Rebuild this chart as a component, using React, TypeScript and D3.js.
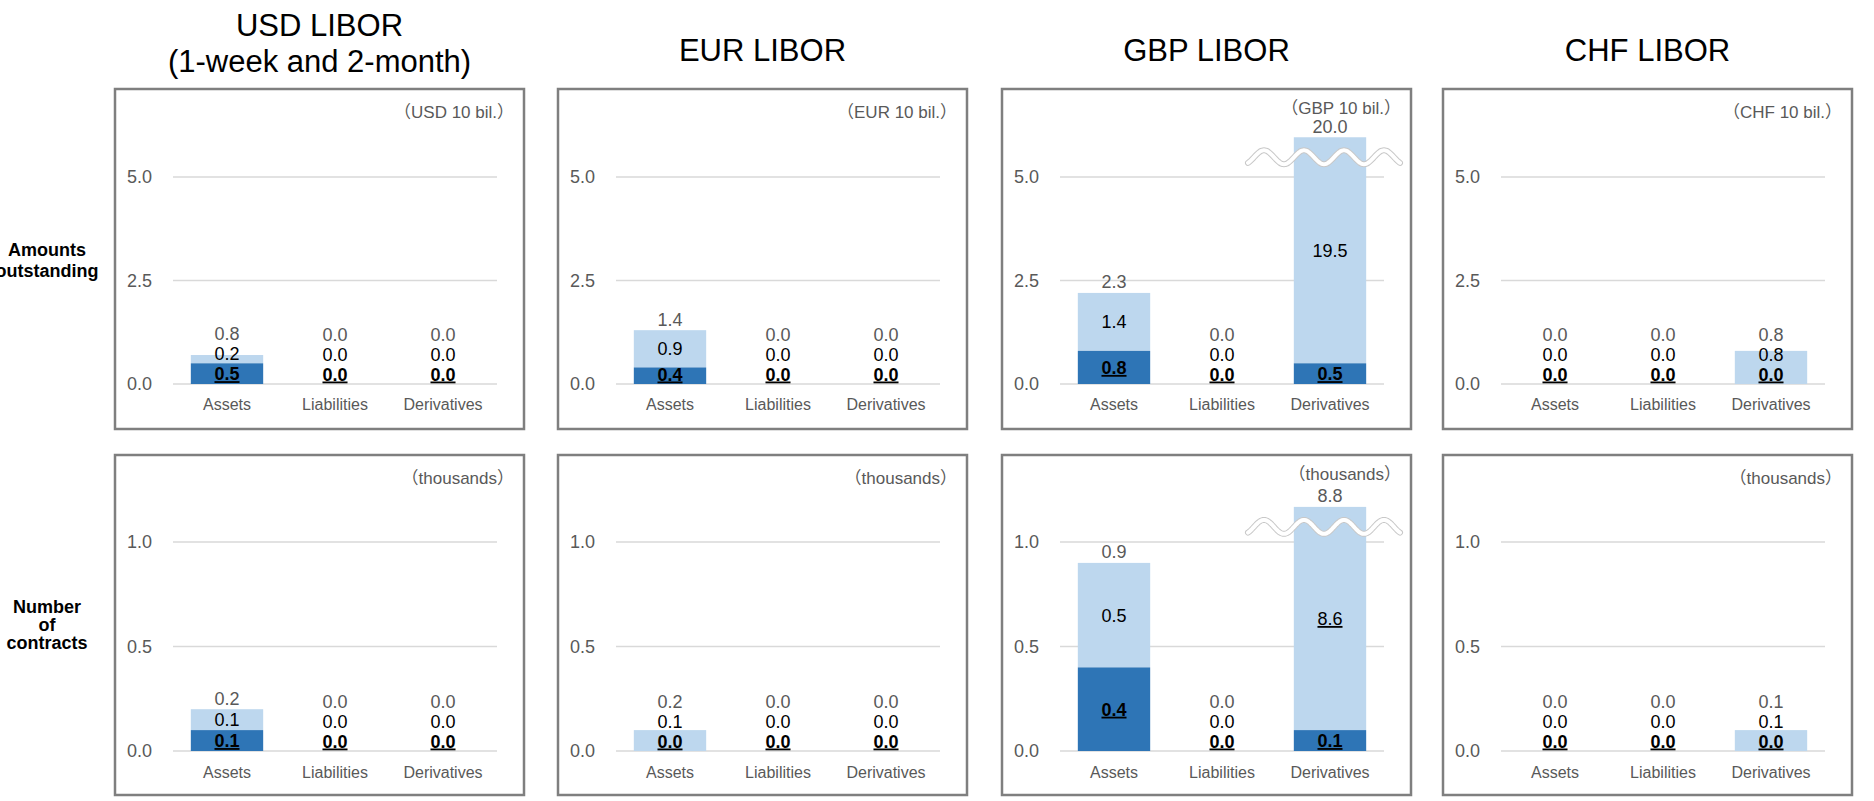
import React from "react";
import * as d3 from "d3";

// ---------- data ----------
const TITLES: string[][] = [
  ["USD LIBOR", "(1-week and 2-month)"],
  ["EUR LIBOR"],
  ["GBP LIBOR"],
  ["CHF LIBOR"],
];
const CATEGORIES = ["Assets", "Liabilities", "Derivatives"];
const ROW_LABELS: string[][] = [["Amounts", "outstanding"], ["Number", "of", "contracts"]];
const AMOUNT_UNITS = ["（USD 10 bil.）", "（EUR 10 bil.）", "（GBP 10 bil.）", "（CHF 10 bil.）"];
const COUNT_UNIT = "（thousands）";

// Amounts outstanding (10 bil.)
const AMOUNT_DARK = [[0.5, 0, 0], [0.4, 0, 0], [0.8, 0, 0.5], [0, 0, 0]];
const AMOUNT_LIGHT = [[0.2, 0, 0], [0.9, 0, 0], [1.4, 0, 19.5], [0, 0, 0.8]];
const AMOUNT_TOTAL = [[0.8, 0, 0], [1.4, 0, 0], [2.3, 0, 20.0], [0, 0, 0.8]];
// Number of contracts (thousands)
const COUNT_DARK = [[0.1, 0, 0], [0, 0, 0], [0.4, 0, 0.1], [0, 0, 0]];
const COUNT_LIGHT = [[0.1, 0, 0], [0.1, 0, 0], [0.5, 0, 8.6], [0, 0, 0.1]];
const COUNT_TOTAL = [[0.2, 0, 0], [0.2, 0, 0], [0.9, 0, 8.8], [0, 0, 0.1]];
// light labels that are underlined in the source
const COUNT_LIGHT_UNDERLINE = [[false, false, false], [false, false, false], [false, false, true], [false, false, false]];
const NO_UNDERLINE = [[false, false, false], [false, false, false], [false, false, false], [false, false, false]];

const AMOUNT_TICKS = [0, 2.5, 5];
const COUNT_TICKS = [0, 0.5, 1];

// ---------- style / layout ----------
const FONT = "'Liberation Sans', Arial, 'Noto Sans CJK JP', sans-serif";
const DARK = "#2E75B6";
const LIGHT = "#BDD7EE";
const GRID = "#D9D9D9";
const GRAY_TEXT = "#595959";
const BORDER = "#7F7F7F";

const BOX_LEFTS = [115, 558, 1002, 1443];
const BOX_W = 409;
const UNIT_SHIFT = [0, 0, -4, 0];

type RowCfg = {
  boxTop: number; boxBottom: number; base: number; topTickY: number; topTick: number;
  cap: number; unitY: number; catY: number; labelYs: number[];
  ticks: number[]; dark: number[][]; light: number[][]; total: number[][];
  lightUnderline: boolean[][]; units: string[];
};

const ROWS: RowCfg[] = [
  {
    boxTop: 89, boxBottom: 429, base: 384, topTickY: 177, topTick: 5, cap: 5.96,
    unitY: 118, catY: 410, labelYs: [256, 277],
    ticks: AMOUNT_TICKS, dark: AMOUNT_DARK, light: AMOUNT_LIGHT, total: AMOUNT_TOTAL,
    lightUnderline: NO_UNDERLINE, units: AMOUNT_UNITS,
  },
  {
    boxTop: 455, boxBottom: 795, base: 751, topTickY: 542, topTick: 1, cap: 1.168,
    unitY: 484, catY: 778, labelYs: [613, 631, 649],
    ticks: COUNT_TICKS, dark: COUNT_DARK, light: COUNT_LIGHT, total: COUNT_TOTAL,
    lightUnderline: COUNT_LIGHT_UNDERLINE, units: [COUNT_UNIT, COUNT_UNIT, COUNT_UNIT, COUNT_UNIT],
  },
];

function wavePath(cx: number, cy: number): string {
  const pts: [number, number][] = [];
  const half = 76, period = 40, amp = 7;
  for (let x = -half; x <= half; x += 1) {
    pts.push([cx + x, cy + amp * Math.cos((2 * Math.PI * x) / period)]);
  }
  return d3.line().curve(d3.curveBasis)(pts) || "";
}

function Panel({ ci, row }: { ci: number; row: RowCfg }) {
  const left = BOX_LEFTS[ci];
  const gx0 = left + 58;
  const gx1 = gx0 + 324;
  const x = d3.scaleBand<string>().domain(CATEGORIES).range([gx0, gx1]).paddingInner(0.33).paddingOuter(0.165);
  const y = d3.scaleLinear().domain([0, row.topTick]).range([row.base, row.topTickY]);
  const fmt = d3.format(".1f");

  return (
    <g>
      <rect x={left} y={row.boxTop} width={BOX_W} height={row.boxBottom - row.boxTop}
        fill="#fff" stroke={BORDER} strokeWidth={2.5} />
      {row.ticks.map((t) => (
        <g key={t}>
          <line x1={gx0} x2={gx1} y1={y(t)} y2={y(t)} stroke={GRID} strokeWidth={1.5} />
          <text x={left + 37} y={y(t) + 6} textAnchor="end" fontSize={18} fill={GRAY_TEXT}>{fmt(t)}</text>
        </g>
      ))}
      <text x={left + BOX_W - 10} y={row.unitY + UNIT_SHIFT[ci]} textAnchor="end" fontSize={17} fill={GRAY_TEXT}>{row.units[ci]}</text>
      {CATEGORIES.map((c, i) => {
        const dark = row.dark[ci][i];
        const light = row.light[ci][i];
        const total = row.total[ci][i];
        const bx = x(c) as number;
        const bw = x.bandwidth();
        const cx = bx + bw / 2;
        const yBase = y(0);
        const yDark = y(dark);
        const sum = dark + light;
        const broken = sum > row.cap;
        const yTop = y(Math.min(sum, row.cap));
        const boldC = Math.min((yBase + yDark) / 2, yBase - 10);
        const lightC = broken ? (yTop + yDark) / 2 : Math.min((yDark + yTop) / 2, boldC - 20);
        const totalC = Math.min(yTop - 11, lightC - 20);
        return (
          <g key={c}>
            {light > 0 && <rect x={bx} width={bw} y={yTop} height={yDark - yTop} fill={LIGHT} />}
            {dark > 0 && <rect x={bx} width={bw} y={yDark} height={yBase - yDark} fill={DARK} />}
            {broken && (
              <g>
                <path d={wavePath(cx - 6, yTop + 20)} fill="none" stroke="#C8C8C8" strokeWidth={6} strokeLinecap="round" />
                <path d={wavePath(cx - 6, yTop + 20)} fill="none" stroke="#fff" strokeWidth={4} strokeLinecap="round" />
              </g>
            )}
            <text x={cx} y={totalC + 6.5} textAnchor="middle" fontSize={18} fill={GRAY_TEXT}>{fmt(total)}</text>
            <text x={cx} y={lightC + 6.5} textAnchor="middle" fontSize={18} fill="#000"
              style={row.lightUnderline[ci][i] ? { textDecoration: "underline" } : undefined}>{fmt(light)}</text>
            <text x={cx} y={boldC + 6.5} textAnchor="middle" fontSize={18} fontWeight="bold" fill="#000"
              style={{ textDecoration: "underline" }}>{fmt(dark)}</text>
            <text x={cx} y={row.catY} textAnchor="middle" fontSize={16} fill={GRAY_TEXT}>{c}</text>
          </g>
        );
      })}
    </g>
  );
}

export default function App() {
  return (
    <svg width={1874} height={801} style={{ position: "absolute", left: 0, top: 0, background: "#fff" }}
      fontFamily={FONT}>
      <rect x={0} y={0} width={1874} height={801} fill="#fff" />
      {TITLES.map((lines, ci) => {
        const cx = BOX_LEFTS[ci] + BOX_W / 2;
        const ys = lines.length === 2 ? [36, 72] : [61];
        return (
          <text key={ci} textAnchor="middle" fontSize={31} fill="#000">
            {lines.map((l, k) => (
              <tspan key={k} x={cx} y={ys[k]}>{l}</tspan>
            ))}
          </text>
        );
      })}
      {ROWS.map((row, ri) => (
        <g key={ri}>
          <text textAnchor="middle" fontSize={18} fontWeight="bold" fill="#000">
            {ROW_LABELS[ri].map((l, k) => (
              <tspan key={k} x={47} y={row.labelYs[k]}>{l}</tspan>
            ))}
          </text>
          {BOX_LEFTS.map((_, ci) => <Panel key={ci} ci={ci} row={row} />)}
        </g>
      ))}
    </svg>
  );
}
